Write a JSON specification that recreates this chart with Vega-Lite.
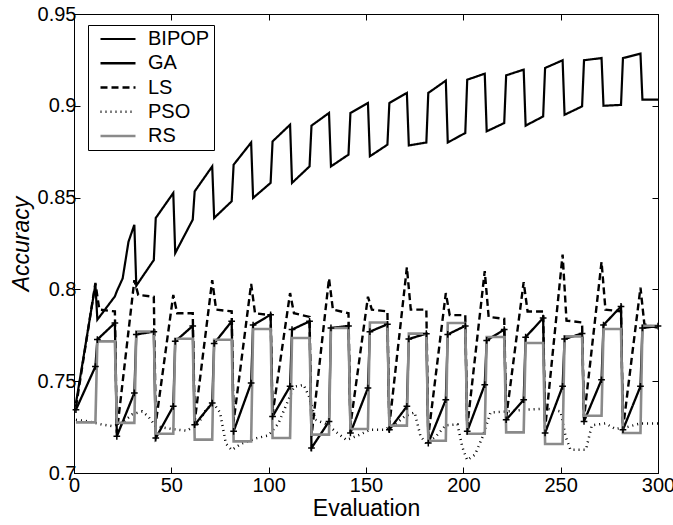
{
"$schema":"https://vega.github.io/schema/vega-lite/v6.json",
"width":584,"height":459,
"autosize":{"type":"none"},
"padding":{"left":74,"top":14,"right":15,"bottom":52},
"background":"white",
"data":{"values":[
{"series":"BIPOP","x":1,"y":0.738},{"series":"BIPOP","x":11,"y":0.8027},
{"series":"BIPOP","x":12,"y":0.7835},{"series":"BIPOP","x":21,"y":0.7962},
{"series":"BIPOP","x":22,"y":0.799},{"series":"BIPOP","x":25,"y":0.806},{"series":"BIPOP","x":28,"y":0.826},{"series":"BIPOP","x":31,"y":0.8352},
{"series":"BIPOP","x":32,"y":0.802},{"series":"BIPOP","x":41,"y":0.816},
{"series":"BIPOP","x":42,"y":0.8389},{"series":"BIPOP","x":51,"y":0.8525},
{"series":"BIPOP","x":52,"y":0.8198},{"series":"BIPOP","x":61,"y":0.838},
{"series":"BIPOP","x":62,"y":0.8534},{"series":"BIPOP","x":71,"y":0.867},
{"series":"BIPOP","x":72,"y":0.8389},{"series":"BIPOP","x":81,"y":0.848},
{"series":"BIPOP","x":82,"y":0.8679},{"series":"BIPOP","x":91,"y":0.88},
{"series":"BIPOP","x":92,"y":0.8498},{"series":"BIPOP","x":101,"y":0.858},
{"series":"BIPOP","x":102,"y":0.8806},{"series":"BIPOP","x":111,"y":0.8897},
{"series":"BIPOP","x":112,"y":0.858},{"series":"BIPOP","x":121,"y":0.867},
{"series":"BIPOP","x":122,"y":0.8892},{"series":"BIPOP","x":131,"y":0.8961},
{"series":"BIPOP","x":132,"y":0.867},{"series":"BIPOP","x":141,"y":0.8734},
{"series":"BIPOP","x":142,"y":0.8961},{"series":"BIPOP","x":151,"y":0.9015},
{"series":"BIPOP","x":152,"y":0.8725},{"series":"BIPOP","x":161,"y":0.8788},
{"series":"BIPOP","x":162,"y":0.9015},{"series":"BIPOP","x":171,"y":0.907},
{"series":"BIPOP","x":172,"y":0.8784},{"series":"BIPOP","x":181,"y":0.88},
{"series":"BIPOP","x":182,"y":0.907},{"series":"BIPOP","x":191,"y":0.9137},
{"series":"BIPOP","x":192,"y":0.88},{"series":"BIPOP","x":201,"y":0.8852},
{"series":"BIPOP","x":202,"y":0.9142},{"series":"BIPOP","x":211,"y":0.9175},
{"series":"BIPOP","x":212,"y":0.8861},{"series":"BIPOP","x":221,"y":0.8906},
{"series":"BIPOP","x":222,"y":0.9166},{"series":"BIPOP","x":231,"y":0.9197},
{"series":"BIPOP","x":232,"y":0.8892},{"series":"BIPOP","x":241,"y":0.8942},
{"series":"BIPOP","x":242,"y":0.9206},{"series":"BIPOP","x":251,"y":0.9248},
{"series":"BIPOP","x":252,"y":0.8951},{"series":"BIPOP","x":261,"y":0.8997},
{"series":"BIPOP","x":262,"y":0.9248},{"series":"BIPOP","x":271,"y":0.926},
{"series":"BIPOP","x":272,"y":0.9},{"series":"BIPOP","x":281,"y":0.9005},
{"series":"BIPOP","x":282,"y":0.926},{"series":"BIPOP","x":291,"y":0.9284},
{"series":"BIPOP","x":292,"y":0.9034},{"series":"BIPOP","x":300,"y":0.9034},

{"series":"GA","x":1,"y":0.7345},{"series":"GA","x":11,"y":0.758},
{"series":"GA","x":12,"y":0.7727},{"series":"GA","x":21,"y":0.7817},
{"series":"GA","x":22,"y":0.72},{"series":"GA","x":31,"y":0.7436},
{"series":"GA","x":32,"y":0.7755},{"series":"GA","x":41,"y":0.777},
{"series":"GA","x":42,"y":0.719},{"series":"GA","x":51,"y":0.7363},
{"series":"GA","x":52,"y":0.7717},{"series":"GA","x":61,"y":0.7801},
{"series":"GA","x":62,"y":0.7263},{"series":"GA","x":71,"y":0.7381},
{"series":"GA","x":72,"y":0.7706},{"series":"GA","x":81,"y":0.7826},
{"series":"GA","x":82,"y":0.7227},{"series":"GA","x":91,"y":0.749},
{"series":"GA","x":92,"y":0.7806},{"series":"GA","x":101,"y":0.7862},
{"series":"GA","x":102,"y":0.7308},{"series":"GA","x":111,"y":0.7472},
{"series":"GA","x":112,"y":0.7781},{"series":"GA","x":121,"y":0.7826},
{"series":"GA","x":122,"y":0.7136},{"series":"GA","x":131,"y":0.7281},
{"series":"GA","x":132,"y":0.779},{"series":"GA","x":141,"y":0.7801},
{"series":"GA","x":142,"y":0.7218},{"series":"GA","x":151,"y":0.7463},
{"series":"GA","x":152,"y":0.777},{"series":"GA","x":161,"y":0.781},
{"series":"GA","x":162,"y":0.7236},{"series":"GA","x":171,"y":0.7363},
{"series":"GA","x":172,"y":0.773},{"series":"GA","x":181,"y":0.7759},
{"series":"GA","x":182,"y":0.7163},{"series":"GA","x":191,"y":0.7399},
{"series":"GA","x":192,"y":0.7755},{"series":"GA","x":201,"y":0.7801},
{"series":"GA","x":202,"y":0.7227},{"series":"GA","x":211,"y":0.7481},
{"series":"GA","x":212,"y":0.7722},{"series":"GA","x":221,"y":0.7781},
{"series":"GA","x":222,"y":0.729},{"series":"GA","x":231,"y":0.7399},
{"series":"GA","x":232,"y":0.774},{"series":"GA","x":241,"y":0.7844},
{"series":"GA","x":242,"y":0.7218},{"series":"GA","x":251,"y":0.7472},
{"series":"GA","x":252,"y":0.773},{"series":"GA","x":261,"y":0.776},
{"series":"GA","x":262,"y":0.7281},{"series":"GA","x":271,"y":0.7508},
{"series":"GA","x":272,"y":0.7806},{"series":"GA","x":281,"y":0.7907},
{"series":"GA","x":282,"y":0.7236},{"series":"GA","x":291,"y":0.7472},
{"series":"GA","x":292,"y":0.779},{"series":"GA","x":300,"y":0.78},

{"series":"LS","x":1,"y":0.736},{"series":"LS","x":11,"y":0.8035},{"series":"LS","x":13,"y":0.789},{"series":"LS","x":21,"y":0.788},
{"series":"LS","x":22,"y":0.722},{"series":"LS","x":31,"y":0.805},{"series":"LS","x":33,"y":0.797},{"series":"LS","x":41,"y":0.796},
{"series":"LS","x":42,"y":0.727},{"series":"LS","x":51,"y":0.797},{"series":"LS","x":53,"y":0.787},{"series":"LS","x":61,"y":0.787},
{"series":"LS","x":62,"y":0.728},{"series":"LS","x":71,"y":0.805},{"series":"LS","x":73,"y":0.789},{"series":"LS","x":81,"y":0.788},
{"series":"LS","x":82,"y":0.728},{"series":"LS","x":91,"y":0.803},{"series":"LS","x":93,"y":0.787},{"series":"LS","x":101,"y":0.786},
{"series":"LS","x":102,"y":0.732},{"series":"LS","x":111,"y":0.798},{"series":"LS","x":113,"y":0.787},{"series":"LS","x":121,"y":0.785},
{"series":"LS","x":122,"y":0.72},{"series":"LS","x":131,"y":0.806},{"series":"LS","x":133,"y":0.789},{"series":"LS","x":141,"y":0.787},
{"series":"LS","x":142,"y":0.726},{"series":"LS","x":151,"y":0.796},{"series":"LS","x":153,"y":0.789},{"series":"LS","x":161,"y":0.788},
{"series":"LS","x":162,"y":0.726},{"series":"LS","x":171,"y":0.812},{"series":"LS","x":173,"y":0.789},{"series":"LS","x":181,"y":0.789},
{"series":"LS","x":182,"y":0.72},{"series":"LS","x":191,"y":0.798},{"series":"LS","x":193,"y":0.786},{"series":"LS","x":201,"y":0.786},
{"series":"LS","x":202,"y":0.725},{"series":"LS","x":211,"y":0.81},{"series":"LS","x":213,"y":0.785},{"series":"LS","x":221,"y":0.784},
{"series":"LS","x":222,"y":0.73},{"series":"LS","x":231,"y":0.804},{"series":"LS","x":233,"y":0.788},{"series":"LS","x":241,"y":0.788},
{"series":"LS","x":242,"y":0.724},{"series":"LS","x":251,"y":0.819},{"series":"LS","x":253,"y":0.783},{"series":"LS","x":261,"y":0.782},
{"series":"LS","x":262,"y":0.73},{"series":"LS","x":271,"y":0.815},{"series":"LS","x":273,"y":0.789},{"series":"LS","x":281,"y":0.788},
{"series":"LS","x":282,"y":0.724},{"series":"LS","x":291,"y":0.801},{"series":"LS","x":293,"y":0.781},{"series":"LS","x":300,"y":0.779},

{"series":"PSO","x":1,"y":0.729},{"series":"PSO","x":8,"y":0.728},{"series":"PSO","x":14,"y":0.7265},{"series":"PSO","x":20,"y":0.7255},
{"series":"PSO","x":25,"y":0.7275},{"series":"PSO","x":30,"y":0.732},{"series":"PSO","x":35,"y":0.7335},{"series":"PSO","x":38,"y":0.731},
{"series":"PSO","x":42,"y":0.7255},{"series":"PSO","x":50,"y":0.724},{"series":"PSO","x":58,"y":0.723},{"series":"PSO","x":64,"y":0.727},
{"series":"PSO","x":68,"y":0.735},{"series":"PSO","x":72,"y":0.7375},{"series":"PSO","x":75,"y":0.733},{"series":"PSO","x":78,"y":0.716},
{"series":"PSO","x":81,"y":0.7125},{"series":"PSO","x":86,"y":0.716},{"series":"PSO","x":94,"y":0.719},{"series":"PSO","x":100,"y":0.7205},
{"series":"PSO","x":105,"y":0.727},{"series":"PSO","x":109,"y":0.737},{"series":"PSO","x":113,"y":0.747},{"series":"PSO","x":118,"y":0.748},
{"series":"PSO","x":121,"y":0.741},{"series":"PSO","x":124,"y":0.729},{"series":"PSO","x":130,"y":0.7265},{"series":"PSO","x":135,"y":0.722},
{"series":"PSO","x":140,"y":0.718},{"series":"PSO","x":146,"y":0.7205},{"series":"PSO","x":152,"y":0.7235},{"series":"PSO","x":159,"y":0.7235},
{"series":"PSO","x":165,"y":0.7265},{"series":"PSO","x":170,"y":0.731},{"series":"PSO","x":175,"y":0.733},{"series":"PSO","x":178,"y":0.72},
{"series":"PSO","x":181,"y":0.716},{"series":"PSO","x":186,"y":0.72},{"series":"PSO","x":191,"y":0.726},{"series":"PSO","x":197,"y":0.7265},
{"series":"PSO","x":199.5,"y":0.714},{"series":"PSO","x":202,"y":0.707},{"series":"PSO","x":206,"y":0.71},{"series":"PSO","x":210,"y":0.72},
{"series":"PSO","x":214,"y":0.733},{"series":"PSO","x":222,"y":0.7335},{"series":"PSO","x":232,"y":0.7345},{"series":"PSO","x":243,"y":0.735},
{"series":"PSO","x":250,"y":0.7335},{"series":"PSO","x":252.5,"y":0.72},{"series":"PSO","x":255,"y":0.7127},{"series":"PSO","x":263,"y":0.7127},
{"series":"PSO","x":266,"y":0.726},{"series":"PSO","x":273,"y":0.727},{"series":"PSO","x":278,"y":0.724},{"series":"PSO","x":284,"y":0.725},
{"series":"PSO","x":291,"y":0.727},{"series":"PSO","x":300,"y":0.727},

{"series":"RS","x":1,"y":0.7276},{"series":"RS","x":11,"y":0.7276},
{"series":"RS","x":12,"y":0.7717},{"series":"RS","x":21,"y":0.7717},
{"series":"RS","x":22,"y":0.7273},{"series":"RS","x":31,"y":0.7273},
{"series":"RS","x":32,"y":0.7771},{"series":"RS","x":41,"y":0.7771},
{"series":"RS","x":42,"y":0.7214},{"series":"RS","x":51,"y":0.7214},
{"series":"RS","x":52,"y":0.7731},{"series":"RS","x":61,"y":0.7731},
{"series":"RS","x":62,"y":0.7182},{"series":"RS","x":71,"y":0.7182},
{"series":"RS","x":72,"y":0.7726},{"series":"RS","x":81,"y":0.7726},
{"series":"RS","x":82,"y":0.7172},{"series":"RS","x":91,"y":0.7172},
{"series":"RS","x":92,"y":0.7784},{"series":"RS","x":101,"y":0.7784},
{"series":"RS","x":102,"y":0.7191},{"series":"RS","x":111,"y":0.7191},
{"series":"RS","x":112,"y":0.7735},{"series":"RS","x":121,"y":0.7735},
{"series":"RS","x":122,"y":0.7209},{"series":"RS","x":131,"y":0.7209},
{"series":"RS","x":132,"y":0.779},{"series":"RS","x":141,"y":0.779},
{"series":"RS","x":142,"y":0.724},{"series":"RS","x":151,"y":0.724},
{"series":"RS","x":152,"y":0.782},{"series":"RS","x":161,"y":0.782},
{"series":"RS","x":162,"y":0.7258},{"series":"RS","x":171,"y":0.7258},
{"series":"RS","x":172,"y":0.7759},{"series":"RS","x":181,"y":0.7759},
{"series":"RS","x":182,"y":0.7176},{"series":"RS","x":191,"y":0.7176},
{"series":"RS","x":192,"y":0.7817},{"series":"RS","x":201,"y":0.7817},
{"series":"RS","x":202,"y":0.7214},{"series":"RS","x":211,"y":0.7214},
{"series":"RS","x":212,"y":0.7741},{"series":"RS","x":221,"y":0.7741},
{"series":"RS","x":222,"y":0.7221},{"series":"RS","x":231,"y":0.7221},
{"series":"RS","x":232,"y":0.7708},{"series":"RS","x":241,"y":0.7708},
{"series":"RS","x":242,"y":0.7158},{"series":"RS","x":251,"y":0.7158},
{"series":"RS","x":252,"y":0.7744},{"series":"RS","x":261,"y":0.7744},
{"series":"RS","x":262,"y":0.7312},{"series":"RS","x":271,"y":0.7312},
{"series":"RS","x":272,"y":0.7784},{"series":"RS","x":281,"y":0.7784},
{"series":"RS","x":282,"y":0.7218},{"series":"RS","x":291,"y":0.7218},
{"series":"RS","x":292,"y":0.7802},{"series":"RS","x":300,"y":0.7802}
]},
"layer":[
{"mark":{"type":"line","strokeJoin":"miter","strokeCap":"butt","clip":true},
 "encoding":{
  "x":{"field":"x","type":"quantitative","scale":{"domain":[0,300],"nice":false,"zero":false},
       "axis":{"orient":"bottom","values":[0,50,100,150,200,250,300],"format":"d","title":"Evaluation","tickSize":-6,"labelPadding":8,"titlePadding":2}},
  "y":{"field":"y","type":"quantitative","scale":{"domain":[0.7,0.95],"nice":false,"zero":false},
       "axis":{"orient":"left","values":[0.7,0.75,0.8,0.85,0.9,0.95],"format":"~g","title":"Accuracy","titleFontStyle":"italic","tickSize":-6,"labelPadding":4,"titlePadding":4}},
  "color":{"field":"series","type":"nominal","scale":{"domain":["BIPOP","GA","LS","PSO","RS"],"range":["#000000","#000000","#000000","#000000","#8a8a8a"]},
       "legend":{"title":null,"orient":"none","legendX":14,"legendY":11,"strokeColor":"black","fillColor":"white","padding":4,"symbolType":"stroke","symbolSize":1225,"clipHeight":20,"rowPadding":4.25,"symbolOffset":7,"labelOffset":11,"labelFontSize":20,"labelFont":"Liberation Sans","labelColor":"black","cornerRadius":0}},
  "strokeDash":{"field":"series","type":"nominal","scale":{"domain":["BIPOP","GA","LS","PSO","RS"],"range":[[1,0],[1,0],[7,4],[1,4],[1,0]]}},
  "strokeWidth":{"field":"series","type":"nominal","scale":{"domain":["BIPOP","GA","LS","PSO","RS"],"range":[2.2,2.6,2,1.2,2.5]}}
 }},
{"transform":[{"filter":"datum.series === 'GA'"}],
 "mark":{"type":"point","shape":"M-1,0L1,0M0,-1L0,1","filled":false,"stroke":"black","strokeWidth":1.5,"size":45,"opacity":1},
 "encoding":{
  "x":{"field":"x","type":"quantitative","axis":{"orient":"top","values":[0,50,100,150,200,250,300],"labels":false,"title":null,"tickSize":-6}},
  "y":{"field":"y","type":"quantitative","axis":{"orient":"right","values":[0.7,0.75,0.8,0.85,0.9,0.95],"labels":false,"title":null,"tickSize":-6}}
 }}
],
"resolve":{"axis":{"x":"independent","y":"independent"}},
"config":{
 "view":{"stroke":"black","strokeWidth":1},
 "font":"Liberation Sans",
 "axis":{"grid":false,"domainColor":"black","domainWidth":1,"tickColor":"black","tickWidth":1,"labelColor":"black","labelFont":"Liberation Sans","labelFontSize":20,"titleFont":"Liberation Sans","titleFontSize":23,"titleFontWeight":"normal","titleColor":"black","labelFlush":false,"labelOverlap":false}
}
}
